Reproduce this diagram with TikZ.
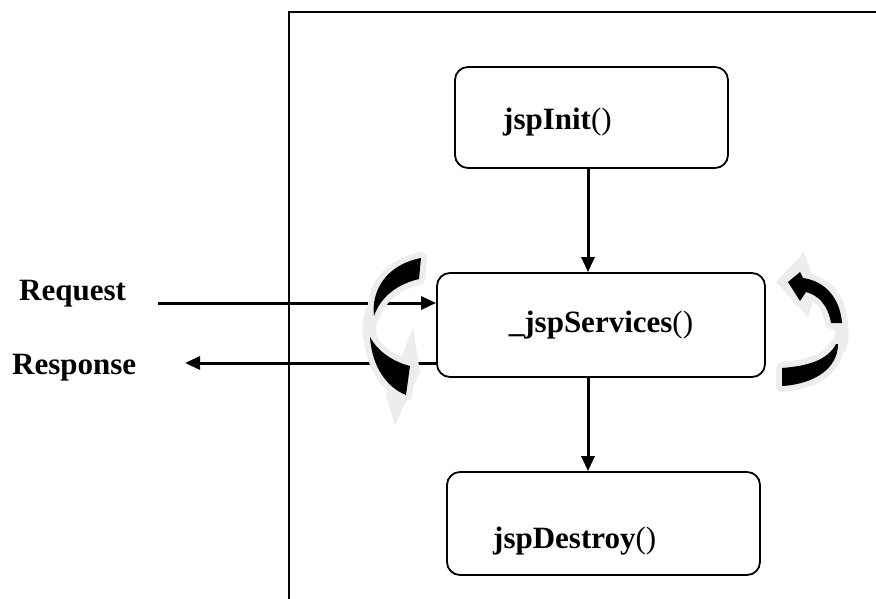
\documentclass[tikz,border=0pt]{standalone}
\usepackage{fontspec}
\setmainfont{Liberation Serif}
\usetikzlibrary{arrows.meta, positioning}
\definecolor{haloGrey}{HTML}{EDEDED}
\tikzset{
  frameline/.style = {line width=1.8pt, black},
  flow/.style      = {-{Triangle[length=15pt, width=13pt]}, line width=3pt, black},
  lbl/.style       = {font=\fontsize{31}{36}\selectfont\bfseries, inner sep=0pt},
  halo/.style      = {preaction={draw=haloGrey, line width=12pt, line join=round}, fill=black},
  haloband/.style  = {haloGrey, line width=14pt},
}
\newcommand{\meth}[1]{#1\mdseries()}

\begin{document}
\begin{tikzpicture}[x=1pt, y=-1pt,
  box/.style = {draw, line width=1.8pt, rounded corners=13pt, fill=white,
                font=\fontsize{31}{36}\selectfont\bfseries},
]
\useasboundingbox (0,0) rectangle (876,599);

% ---- container --------------------------------------------------------------
\draw[frameline] (289,599) -- (289,12) -- (876,12);

% ---- life-cycle boxes --------------------------------------------------------
\node[box, minimum width=273, minimum height=101] (init) at (591.5,117.5) {};
\node[lbl, anchor=base west] (initTxt) at (503,130) {\meth{jspInit}};
\node[box, minimum width=328, minimum height=104] (services) at (601,325) {\meth{\_jspServices}};
\node[box, minimum width=313, minimum height=103] (destroy) at (603.5,523.5) {};
\node[lbl, anchor=base west] (destroyTxt) at (493,548) {\meth{jspDestroy}};

\draw[flow] ([xshift=-3.5]init.south) -- ([xshift=-3.5]init.south |- services.north);
\draw[flow] ([xshift=-13]services.south) -- ([xshift=-13]services.south |- destroy.north);

% ---- request / response ------------------------------------------------------
\node[lbl, anchor=base west] (req) at (19,300) {Request};
\node[lbl, anchor=base west] (resp) at (12,374) {Response};
\coordinate (reqStart) at (158,303);
\coordinate (respEnd) at (185,363);
\draw[flow] (reqStart) -- (reqStart -| services.west);
\draw[flow] (respEnd -| services.west) -- (respEnd);

% ---- curved arrow, left -----------------------------------------------------
\draw[haloband] (376,305) .. controls (368,320) and (368,332) .. (372,345);
\fill[haloGrey] (413,328) -- (420,372) -- (395,425) -- (386,396) -- cycle;
\path[halo] (421,258) -- (419,279) .. controls (398,284) and (381,296) .. (374,316)
  .. controls (371,292) and (385,265) .. cycle;
\path[halo] (370,337) .. controls (378,352) and (394,362) .. (410,366) -- (406,395)
  .. controls (388,388) and (372,368) .. cycle;

% ---- curved arrow, right ----------------------------------------------------
\draw[haloband] (838,318) .. controls (843,330) and (843,340) .. (838,350);
\fill[haloGrey] (776,282) -- (804,252) -- (812,275) -- (812,305) -- (808,317) -- cycle;
\path[halo] (788,282) -- (800,272) -- (803,278) .. controls (825,281) and (840,298) .. (842,323)
  -- (831,323) .. controls (828,305) and (818,295) .. (806,292) -- (800,301) -- cycle;
\path[halo] (838,344) .. controls (838,368) and (815,384) .. (782,386) -- (782,368)
  .. controls (808,366) and (828,360) .. (836,344) -- cycle;
\end{tikzpicture}
\end{document}
